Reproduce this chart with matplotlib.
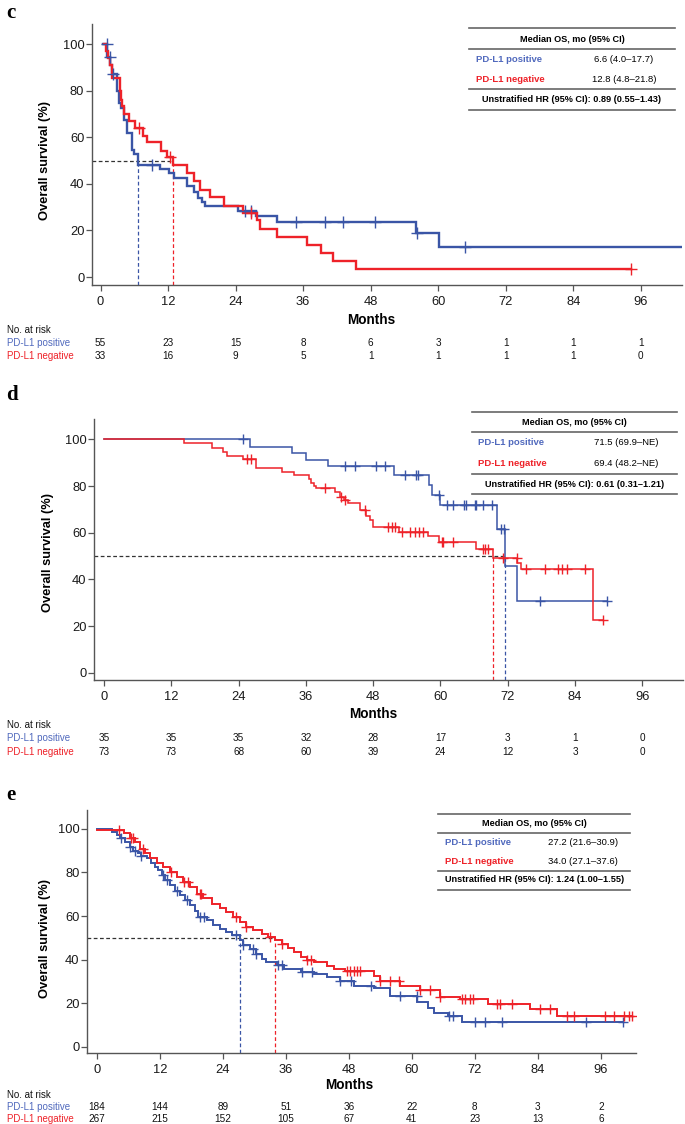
import numpy as np
import matplotlib
matplotlib.use('Agg')
import matplotlib.pyplot as plt
from matplotlib.lines import Line2D
from matplotlib.transforms import blended_transform_factory

plt.rcParams['font.family'] = ['Liberation Sans', 'DejaVu Sans']

# ---------------- DATA ----------------
months_ticks = [0, 12, 24, 36, 48, 60, 72, 84, 96]

# Panel c
c_pos_t = [0.5, 1.2, 1.7, 2.0, 2.9, 3.2, 3.6, 4.1, 4.7, 5.6, 6.0, 6.6, 10.6, 12.1, 13.1, 15.3,
           16.6, 17.4, 18.0, 18.6, 24.4, 27.7, 31.4, 56.1, 60.2]
c_pos_s = [100, 94.5, 90.9, 87.3, 80.0, 74.5, 72.7, 67.3, 61.8, 54.5, 52.7, 48.2, 46.4, 44.5, 42.6,
           38.9, 36.6, 34.0, 32.0, 30.4, 28.5, 26.0, 23.4, 18.7, 12.8]
c_pos_end = 104.0
c_pos_cens = [1.1, 1.6, 2.3, 9.2, 25.7, 26.7, 34.8, 39.9, 43.0, 48.8, 56.3, 64.7]

c_neg_t = [0.7, 1.0, 1.3, 1.7, 2.0, 3.5, 3.7, 3.9, 4.1, 5.0, 6.2, 7.6, 8.2, 10.8, 11.8, 12.8, 15.4,
           16.6, 17.7, 19.5, 22.0, 25.3, 27.8, 28.4, 31.4, 36.6, 39.2, 41.3, 45.3]
c_neg_s = [100, 97.0, 93.9, 90.9, 85.5, 79.7, 75.8, 73.2, 70.1, 66.8, 64.0, 60.4, 57.8, 54.0, 51.3,
           48.1, 44.6, 41.1, 37.5, 34.3, 30.6, 27.5, 24.6, 20.6, 17.2, 13.9, 10.3, 6.9, 3.4]
c_neg_end = 94.2
c_neg_cens = [6.8, 12.3, 26.7, 94.2]

c_median = [6.6, 12.8]
c_risk_pos = [55, 23, 15, 8, 6, 3, 1, 1, 1]
c_risk_neg = [33, 16, 9, 5, 1, 1, 1, 1, 0]
c_table = ["6.6 (4.0\u201317.7)", "12.8 (4.8\u201321.8)", "0.89 (0.55\u20131.43)"]

# Panel d
d_pos_t = [0, 26.1, 33.6, 36.1, 40.0, 51.7, 58.0, 58.5, 60.0, 70.0, 71.5, 73.7]
d_pos_s = [100, 96.9, 94.0, 91.1, 88.4, 84.6, 80.4, 76.1, 71.9, 61.6, 45.9, 30.7]
d_pos_end = 89.7
d_pos_cens = [24.7, 43.0, 44.7, 48.5, 50.1, 53.7, 55.6, 56.0, 59.8, 61.1, 62.3, 64.2, 64.6, 66.1,
              66.3, 67.5, 69.1, 70.8, 71.3, 77.8, 89.7]

d_neg_t = [0, 14.3, 19.2, 21.2, 21.9, 24.8, 27.1, 31.8, 33.9, 36.6, 37.0, 37.4, 37.8, 41.2, 42.1,
           42.8, 43.5, 45.6, 46.8, 47.4, 48.0, 52.6, 57.8, 59.8, 66.4, 69.4, 73.7, 74.4, 87.2]
d_neg_s = [100, 98.6, 96.1, 94.5, 93.0, 91.5, 87.6, 86.1, 84.6, 83.0, 81.5, 80.2, 79.0, 77.6, 75.4,
           74.0, 72.9, 69.7, 67.2, 65.4, 62.6, 60.4, 58.6, 55.9, 52.9, 49.3, 47.1, 44.4, 22.6]
d_neg_end = 89.0
d_neg_cens = [25.5, 26.2, 39.4, 42.3, 43.0, 46.5, 50.7, 51.3, 51.9, 53.1, 54.5, 55.4, 56.2, 56.9,
              60.2, 60.5, 62.3, 67.5, 67.9, 68.5, 71.2, 73.6, 75.2, 78.6, 81.0, 81.6, 82.5, 85.7, 89.0]

d_median = [71.5, 69.4]
d_risk_pos = [35, 35, 35, 32, 28, 17, 3, 1, 0]
d_risk_neg = [73, 73, 68, 60, 39, 24, 12, 3, 0]
d_table = ["71.5 (69.9\u2013NE)", "69.4 (48.2\u2013NE)", "0.61 (0.31\u20131.21)"]

# Panel e
e_pos_t = [0, 2.8, 3.8, 4.4, 5.4, 6.3, 6.9, 7.8, 8.5, 9.5, 10.4, 11.1, 11.7, 12.4, 13.0, 14.0, 14.9,
           15.8, 16.8, 17.7, 18.7, 19.3, 20.9, 22.2, 23.5, 24.7, 25.7, 27.2, 27.9, 29.2, 30.4, 31.4,
           32.3, 34.3, 35.6, 38.8, 41.3, 43.8, 46.4, 48.9, 52.7, 55.9, 61.0, 63.0, 64.3, 66.8, 69.6]
e_pos_s = [100, 98.8, 97.2, 95.7, 94.2, 91.8, 90.0, 88.8, 87.5, 86.5, 84.5, 82.6, 81.1, 78.8, 76.5,
           74.2, 71.5, 69.5, 67.2, 64.9, 62.3, 59.5, 58.0, 55.7, 54.2, 52.6, 51.1, 48.8, 46.9, 44.9,
           42.6, 40.3, 38.8, 37.5, 35.7, 34.2, 33.4, 31.8, 30.3, 28.0, 26.9, 23.4, 20.3, 18.0, 15.7,
           14.2, 11.4]
e_pos_end = 100.2
e_pos_cens = [4.6, 6.3, 7.3, 8.5, 12.7, 13.3, 15.2, 17.1, 19.6, 20.4, 26.6, 27.9, 29.8, 30.4, 34.6,
              35.2, 39.1, 41.0, 46.4, 48.5, 52.3, 57.8, 60.9, 67.0, 67.9, 72.0, 73.9, 77.1, 93.2, 100.2]

e_neg_t = [0, 5.1, 6.3, 7.3, 8.2, 9.2, 10.2, 11.4, 12.7, 14.0, 15.2, 16.5, 17.7, 19.0, 20.3, 21.9,
           23.5, 24.7, 26.0, 27.3, 28.5, 29.8, 31.4, 32.7, 34.0, 35.3, 36.5, 37.5, 38.8, 40.1, 41.4,
           43.8, 45.1, 47.3, 52.7, 54.0, 57.8, 61.6, 65.4, 69.2, 74.6, 82.5, 87.6]
e_neg_s = [99.6, 98.0, 95.7, 94.2, 91.0, 88.8, 86.5, 84.5, 82.6, 80.3, 78.0, 75.7, 73.4, 70.3, 68.5,
           65.7, 63.8, 61.8, 59.5, 57.2, 55.2, 53.4, 51.8, 50.3, 48.8, 47.2, 45.4, 43.4, 41.1, 39.8,
           38.8, 37.2, 35.7, 34.9, 32.6, 30.3, 28.0, 26.0, 22.6, 21.8, 19.5, 17.2, 14.2]
e_neg_end = 101.9
e_neg_cens = [4.2, 6.6, 6.9, 8.8, 14.2, 16.7, 17.4, 19.6, 19.9, 26.6, 28.5, 33.0, 35.3, 40.1, 40.8,
              47.6, 48.3, 49.0, 49.6, 50.2, 54.0, 55.9, 57.5, 61.6, 63.5, 65.4, 69.5, 70.1, 71.1,
              71.7, 76.2, 76.8, 79.1, 84.5, 86.4, 89.6, 90.9, 96.7, 98.5, 100.4, 101.3, 101.9]

e_median = [27.2, 34.0]
e_risk_pos = [184, 144, 89, 51, 36, 22, 8, 3, 2]
e_risk_neg = [267, 215, 152, 105, 67, 41, 23, 13, 6]
e_table = ["27.2 (21.6\u201330.9)", "34.0 (27.1\u201337.6)", "1.24 (1.00\u20131.55)"]

# ---------------- STYLE / LAYOUT ----------------
BLUE = '#3a55a6'
RED = '#ee2229'
BLUE_TXT = '#5069bd'
RED_TXT = '#ee2229'
AX_COL = '#555555'

W, H = 685, 1124
fig = plt.figure(figsize=(W / 100, H / 100), dpi=100)


def fx(x):
    return x / W


def fy(y):
    return 1 - y / H


def px_axes(l, t, r, b):
    return fig.add_axes([l / W, 1 - b / H, (r - l) / W, (b - t) / H])


def km(ax, t, s, end, cens, color, lw, ms):
    t = np.asarray(t, float)
    s = np.asarray(s, float)
    tt = np.append(t, end)
    ss = np.append(s, s[-1])
    ax.step(tt, ss, where='post', color=color, lw=lw, solid_joinstyle='miter', zorder=3)
    c = np.asarray(cens, float)
    idx = np.searchsorted(t, c, side='right') - 1
    ax.plot(c, s[idx], ls='none', marker='+', ms=ms, mew=1.0, color=color, zorder=4)


def panel(box, xl, yl, label_pos, ylab_pos, months_y, risk_y, letter,
          pos, neg, medians, risk_pos, risk_neg, tab, tab_geom, lw, ms):
    ax = px_axes(*box)
    ax.set_xlim(*xl)
    ax.set_ylim(*yl)
    for sp in ['top', 'right']:
        ax.spines[sp].set_visible(False)
    for sp in ['left', 'bottom']:
        ax.spines[sp].set_color(AX_COL)
        ax.spines[sp].set_linewidth(1.0)
    ax.set_xticks(months_ticks)
    ax.set_yticks([0, 20, 40, 60, 80, 100])
    ax.tick_params(axis='both', colors=AX_COL, length=4, width=0.9, labelsize=9.3,
                   labelcolor='#1a1a1a')
    ax.tick_params(axis='x', pad=4)
    ax.tick_params(axis='y', pad=1.5)

    km(ax, *pos, BLUE, lw, ms)
    km(ax, *neg, RED, lw, ms)

    # median lines
    ax.plot([xl[0], max(medians)], [50, 50], ls=(0, (3, 2)), color='#333333', lw=0.9, zorder=2)
    ax.plot([medians[0], medians[0]], [yl[0], 50], ls=(0, (3, 2)), color=BLUE, lw=0.9, zorder=2)
    ax.plot([medians[1], medians[1]], [yl[0], 50], ls=(0, (3, 2)), color=RED, lw=0.9, zorder=2)

    # labels
    fig.text(fx(label_pos[0]), fy(label_pos[1]), letter, family='Liberation Serif',
             fontweight='bold', fontsize=15, ha='center', va='center')
    fig.text(fx(ylab_pos[0]), fy(ylab_pos[1]), 'Overall survival (%)', rotation=90,
             fontweight='bold', fontsize=9.3, ha='center', va='center')
    tr = blended_transform_factory(ax.transData, fig.transFigure)
    fig.text(48, fy(months_y), 'Months', transform=tr, fontweight='bold', fontsize=9.8,
             ha='center', va='center')

    # risk table
    fig.text(fx(7), fy(risk_y[0]), 'No. at risk', fontsize=7, ha='left', va='center',
             color='#111111')
    fig.text(fx(7), fy(risk_y[1]), 'PD-L1 positive', fontsize=7, ha='left', va='center',
             color=BLUE_TXT)
    fig.text(fx(7), fy(risk_y[2]), 'PD-L1 negative', fontsize=7, ha='left', va='center',
             color=RED_TXT)
    for m, a, b in zip(months_ticks, risk_pos, risk_neg):
        fig.text(m, fy(risk_y[1]), str(a), transform=tr, fontsize=7.2, ha='center',
                 va='center', color='#111111')
        fig.text(m, fy(risk_y[2]), str(b), transform=tr, fontsize=7.2, ha='center',
                 va='center', color='#111111')

    # median OS table
    x0, x1, lines, yh, yr1, yr2, yhr, xlab, xval = tab_geom
    for yy in lines:
        fig.add_artist(Line2D([fx(x0), fx(x1)], [fy(yy), fy(yy)], color='#666666', lw=1.2))
    xc = (x0 + x1) / 2
    fig.text(fx(xc), fy(yh), 'Median OS, mo (95% CI)', fontsize=6.6, fontweight='bold',
             ha='center', va='center')
    fig.text(fx(xlab), fy(yr1), 'PD-L1 positive', fontsize=6.8, fontweight='bold',
             color=BLUE_TXT, ha='left', va='center')
    fig.text(fx(xlab), fy(yr2), 'PD-L1 negative', fontsize=6.8, fontweight='bold',
             color=RED_TXT, ha='left', va='center')
    fig.text(fx(xval), fy(yr1), tab[0], fontsize=6.8, ha='center', va='center')
    fig.text(fx(xval), fy(yr2), tab[1], fontsize=6.8, ha='center', va='center')
    fig.text(fx(xc), fy(yhr), 'Unstratified HR (95% CI): ' + tab[2], fontsize=6.6,
             fontweight='bold', ha='center', va='center')
    return ax


# panel c
panel(box=(92, 24, 682, 285), xl=(-1.51, 103.3), yl=(-3.43, 108.6),
      label_pos=(11, 13), ylab_pos=(45, 161), months_y=320, risk_y=(330, 343, 356),
      letter='c',
      pos=(c_pos_t, c_pos_s, c_pos_end, c_pos_cens),
      neg=(c_neg_t, c_neg_s, c_neg_end, c_neg_cens),
      medians=c_median, risk_pos=c_risk_pos, risk_neg=c_risk_neg, tab=c_table,
      tab_geom=(469, 675, [28.3, 48.7, 89.3, 110], 39, 59.3, 79.3, 100, 476, 624),
      lw=1.7, ms=8)

# panel d
panel(box=(94.3, 419.3, 683.3, 680), xl=(-1.73, 103.3), yl=(-3.13, 108.6),
      label_pos=(12, 395), ylab_pos=(48, 552), months_y=714, risk_y=(725, 738.3, 751.7),
      letter='d',
      pos=(d_pos_t, d_pos_s, d_pos_end, d_pos_cens),
      neg=(d_neg_t, d_neg_s, d_neg_end, d_neg_cens),
      medians=d_median, risk_pos=d_risk_pos, risk_neg=d_risk_neg, tab=d_table,
      tab_geom=(471.7, 677.3, [412.3, 432.3, 474, 494.3], 422.3, 442.7, 463.3, 484, 478, 626),
      lw=1.1, ms=7)

# panel e
panel(box=(87.3, 810, 635.5, 1053.3), xl=(-1.81, 102.6), yl=(-3.03, 108.7),
      label_pos=(11, 795), ylab_pos=(45, 938), months_y=1085, risk_y=(1095, 1106.7, 1119),
      letter='e',
      pos=(e_pos_t, e_pos_s, e_pos_end, e_pos_cens),
      neg=(e_neg_t, e_neg_s, e_neg_end, e_neg_cens),
      medians=e_median, risk_pos=e_risk_pos, risk_neg=e_risk_neg, tab=e_table,
      tab_geom=(438.3, 630, [814, 832.7, 870.7, 890], 823.3, 842.7, 861, 880, 445, 582.7),
      lw=1.4, ms=6.5)

fig.savefig('out.png', dpi=100)
